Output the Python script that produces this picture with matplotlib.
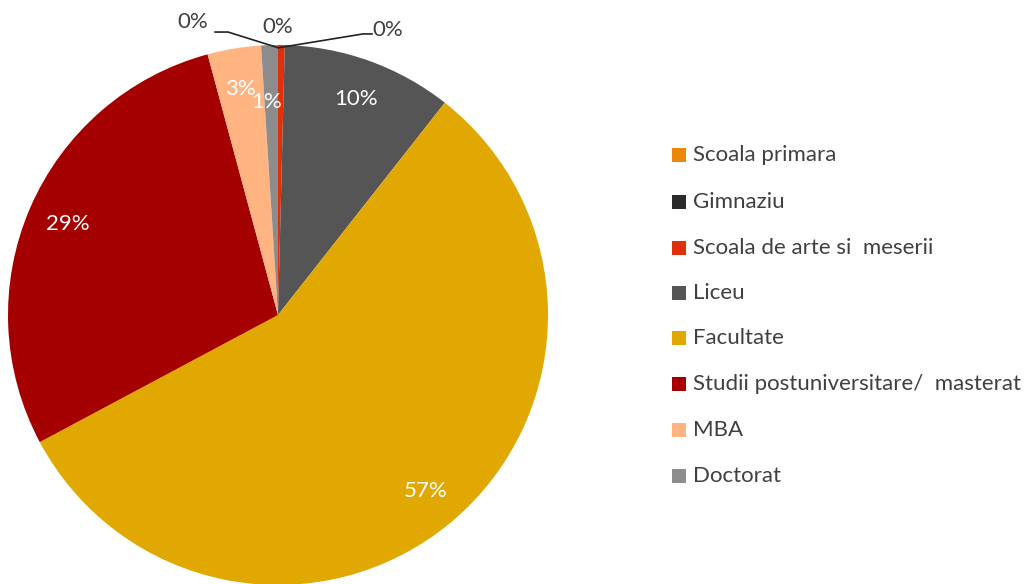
import matplotlib
matplotlib.use("Agg")
import matplotlib.pyplot as plt
import numpy as np
from matplotlib.patches import Rectangle

plt.rcParams['font.family'] = ['Lato', 'DejaVu Sans']

categories = ["Scoala primara", "Gimnaziu", "Scoala de arte si  meserii", "Liceu",
              "Facultate", "Studii postuniversitare/  masterat", "MBA", "Doctorat"]
values = [0.0, 0.0, 0.4, 10.2, 56.6, 28.6, 3.2, 1.0]
pct_labels = ["0%", "0%", "0%", "10%", "57%", "29%", "3%", "1%"]
colors = ["#E8870A", "#2B2B2B", "#E0300A", "#555555", "#E0A800", "#A50000", "#FFB482", "#8C8C8C"]

W, H = 1031, 584
fig = plt.figure(figsize=(W / 100, H / 100), dpi=100)
cx, cy, R = 278, 315, 270
ax = fig.add_axes([(cx - R) / W, (H - cy - R) / H, 2 * R / W, 2 * R / H])
wedges, _ = ax.pie(values, colors=colors, startangle=90, counterclock=False,
                   radius=1.0, wedgeprops=dict(linewidth=0))
ax.set_xlim(-1, 1)
ax.set_ylim(-1, 1)
ax.set_aspect('equal')
ax.axis('off')

FS = 16
total = sum(values)
cum = 0.0
for i, v in enumerate(values):
    mid = (cum + v / 2) / total
    cum += v
    theta = np.deg2rad(90 - mid * 360)
    if v >= 0.9:
        r = 0.85
        x, y = r * np.cos(theta), r * np.sin(theta)
        if categories[i] == "Doctorat":
            y -= 0.06
            x -= 0.015
        ax.text(x, y, pct_labels[i], color="white", ha="center", va="center", fontsize=FS)

# outside 0% labels with leader lines
ax.text(-0.315, 1.085, pct_labels[0], color="#404040", ha="center", va="center", fontsize=FS, clip_on=False)
ax.text(0.0, 1.067, pct_labels[1], color="#404040", ha="center", va="center", fontsize=FS, clip_on=False)
ax.text(0.407, 1.056, pct_labels[2], color="#404040", ha="center", va="center", fontsize=FS, clip_on=False)
ax.plot([-0.233, -0.185, 0.0], [1.048, 1.048, 0.99], color="#222222", lw=1.2, clip_on=False)
ax.plot([0.003, 0.315, 0.348], [0.99, 1.041, 1.041], color="#222222", lw=1.2, clip_on=False)

# legend
x0 = 672
ys = [155, 202, 248, 293, 338, 384, 430, 476]
for c, lab, yy in zip(colors, categories, ys):
    fig.patches.append(Rectangle((x0 / W, (H - yy - 7) / H), 14 / W, 14 / H,
                                 transform=fig.transFigure, facecolor=c, edgecolor='none'))
    fig.text(693 / W, (H - yy) / H, lab, ha='left', va='center', fontsize=FS, color="#404040")

fig.savefig("out.png", dpi=100)
